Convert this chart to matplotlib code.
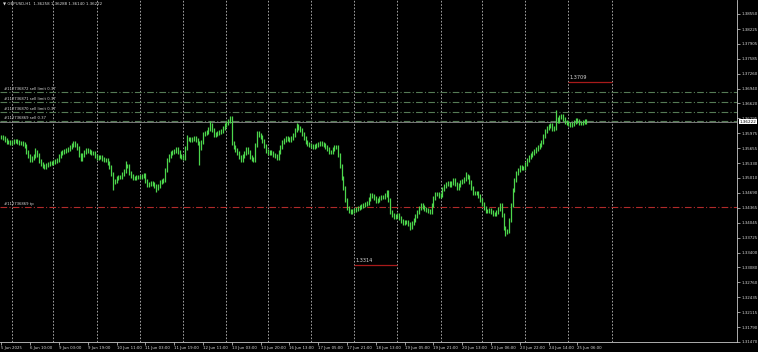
import matplotlib.pyplot as plt
import numpy as np

# GBPUSD H1 closes, one per bar (bar 0 = 5 Jun 18:00)
closes = [
    1.3589, 1.3587, 1.3583, 1.3579, 1.3579, 1.3576, 1.3579, 1.3581, 1.3581, 1.3579,
    1.3576, 1.3576, 1.3574, 1.3570, 1.3557, 1.3548, 1.3540, 1.3544, 1.3548, 1.3557,
    1.3551, 1.3538, 1.3531, 1.3527, 1.3525, 1.3529, 1.3531, 1.3533, 1.3533, 1.3535,
    1.3538, 1.3540, 1.3548, 1.3555, 1.3557, 1.3559, 1.3561, 1.3563, 1.3568, 1.3572,
    1.3576, 1.3572, 1.3566, 1.3551, 1.3542, 1.3551, 1.3557, 1.3561, 1.3559, 1.3557,
    1.3555, 1.3555, 1.3548, 1.3544, 1.3546, 1.3546, 1.3542, 1.3540, 1.3540, 1.3533,
    1.3525, 1.3510, 1.3492, 1.3494, 1.3501, 1.3503, 1.3503, 1.3510, 1.3516, 1.3527,
    1.3527, 1.3512, 1.3505, 1.3501, 1.3501, 1.3503, 1.3503, 1.3503, 1.3505, 1.3507,
    1.3494, 1.3486, 1.3488, 1.3490, 1.3488, 1.3484, 1.3480, 1.3484, 1.3492, 1.3494,
    1.3497, 1.3518, 1.3540, 1.3548, 1.3555, 1.3557, 1.3559, 1.3563, 1.3557, 1.3548,
    1.3546, 1.3544, 1.3566, 1.3585, 1.3585, 1.3583, 1.3585, 1.3587, 1.3583, 1.3576,
    1.3566, 1.3579, 1.3596, 1.3598, 1.3600, 1.3607, 1.3615, 1.3605, 1.3594, 1.3596,
    1.3598, 1.3600, 1.3602, 1.3609, 1.3615, 1.3620, 1.3624, 1.3630, 1.3576, 1.3568,
    1.3561, 1.3555, 1.3546, 1.3540, 1.3548, 1.3555, 1.3563, 1.3557, 1.3546, 1.3542,
    1.3540, 1.3572, 1.3598, 1.3594, 1.3589, 1.3581, 1.3570, 1.3559, 1.3555, 1.3557,
    1.3555, 1.3551, 1.3548, 1.3544, 1.3557, 1.3568, 1.3579, 1.3583, 1.3587, 1.3585,
    1.3583, 1.3587, 1.3594, 1.3605, 1.3613, 1.3609, 1.3605, 1.3596, 1.3587, 1.3579,
    1.3574, 1.3572, 1.3570, 1.3568, 1.3570, 1.3572, 1.3574, 1.3576, 1.3574, 1.3572,
    1.3568, 1.3563, 1.3557, 1.3557, 1.3563, 1.3568, 1.3568, 1.3551, 1.3527, 1.3501,
    1.3480, 1.3453, 1.3436, 1.3430, 1.3427, 1.3430, 1.3432, 1.3434, 1.3436, 1.3438,
    1.3440, 1.3443, 1.3445, 1.3447, 1.3456, 1.3464, 1.3462, 1.3458, 1.3451, 1.3453,
    1.3458, 1.3460, 1.3460, 1.3464, 1.3471, 1.3453, 1.3427, 1.3421, 1.3417, 1.3419,
    1.3421, 1.3414, 1.3408, 1.3404, 1.3406, 1.3406, 1.3402, 1.3395, 1.3404, 1.3410,
    1.3419, 1.3427, 1.3436, 1.3443, 1.3438, 1.3434, 1.3432, 1.3430, 1.3427, 1.3443,
    1.3458, 1.3467, 1.3467, 1.3462, 1.3464, 1.3477, 1.3484, 1.3488, 1.3490, 1.3486,
    1.3490, 1.3497, 1.3488, 1.3480, 1.3486, 1.3492, 1.3494, 1.3499, 1.3505, 1.3503,
    1.3492, 1.3480, 1.3469, 1.3469, 1.3469, 1.3462, 1.3453, 1.3445, 1.3436, 1.3430,
    1.3430, 1.3432, 1.3427, 1.3423, 1.3423, 1.3427, 1.3434, 1.3443, 1.3421, 1.3393,
    1.3384, 1.3386, 1.3410, 1.3443, 1.3475, 1.3497, 1.3512, 1.3518, 1.3525, 1.3523,
    1.3523, 1.3531, 1.3540, 1.3546, 1.3551, 1.3555, 1.3559, 1.3563, 1.3568, 1.3572,
    1.3579, 1.3592, 1.3602, 1.3609, 1.3613, 1.3615, 1.3607, 1.3609, 1.3628, 1.3624,
    1.3633, 1.3635, 1.3628, 1.3622, 1.3620, 1.3617, 1.3615, 1.3617, 1.3622, 1.3626,
    1.3624, 1.3620, 1.3620, 1.3622, 1.3624, 1.3622,
]

# long wicks that stick out of the normal bar range
spike_highs = {19: 1.3566, 69: 1.3538, 103: 1.3594, 116: 1.3624, 127: 1.3635,
               142: 1.3602, 164: 1.3620, 214: 1.3475, 258: 1.3514, 308: 1.3648}
spike_lows = {62: 1.3475, 86: 1.3471, 110: 1.3529, 227: 1.3389, 280: 1.3376}

# bar index of each day start (vertical grid) and time axis labels (every 16 bars)
day_starts = [6, 29, 53, 77, 101, 125, 148, 172, 196, 220, 244, 267, 291, 315, 339]
time_labels = ['5 Jun 2025', '6 Jun 10:00', '9 Jun 03:00', '9 Jun 19:00', '10 Jun 11:00',
               '11 Jun 03:00', '11 Jun 19:00', '12 Jun 11:00', '13 Jun 03:00', '13 Jun 20:00',
               '16 Jun 13:00', '17 Jun 05:00', '17 Jun 21:00', '18 Jun 13:00', '19 Jun 05:00',
               '19 Jun 21:00', '20 Jun 13:00', '23 Jun 06:00', '23 Jun 22:00', '24 Jun 14:00',
               '25 Jun 06:00']

price_ticks = [1.38550, 1.38225, 1.37905, 1.37585, 1.37260, 1.36940, 1.36620, 1.36295,
               1.35975, 1.35655, 1.35330, 1.35010, 1.34690, 1.34365, 1.34045, 1.33725,
               1.33400, 1.33080, 1.32760, 1.32435, 1.32115, 1.31790, 1.31470]

# pending orders / open trade
order_labels = ['#112736872 sell limit 0.37', '#112736871 sell limit 0.37',
                '#112736870 sell limit 0.37', '#112736869 sell 0.37', '#112736869 tp']
order_prices = [1.3687, 1.3665, 1.3643, 1.3625, 1.3438]
order_colors = ['#557a55', '#557a55', '#557a55', '#557a55', '#b02a2a']

bid = 1.36222
title = '\u25bc GBPUSD,H1  1.36258 1.36288 1.36140 1.36222'

# drawn level segments: (start bar, end bar, price)
level_prices = [1.3314, 1.3709]
level_starts = [196, 315]
level_ends = [220, 339]

fg = '#d8d8d8'
green = '#4cd64c'

fig = plt.figure(figsize=(7.58, 3.52), dpi=100, facecolor='black')
ax = fig.add_axes([0, 10 / 352, 737 / 758, 342 / 352])
ax.set_facecolor('black')

closes = np.array(closes)
idx = np.arange(len(closes))
opens = np.concatenate([[closes[0]], closes[:-1]])
highs = np.maximum(opens, closes) + 0.0004
lows = np.minimum(opens, closes) - 0.0004
for i, v in spike_highs.items():
    highs[i] = max(highs[i], v)
for i, v in spike_lows.items():
    lows[i] = min(lows[i], v)

ax.vlines(idx, lows, highs, colors=green, linewidth=0.9, zorder=3)

# day separators
for d in day_starts:
    ax.axvline(d, color='#bcbcbc', linestyle=(0, (2, 2)), linewidth=0.6, zorder=1)

# orders
for lab, p, c in zip(order_labels, order_prices, order_colors):
    ax.axhline(p, color=c, linestyle=(0, (6, 2, 1, 2)), linewidth=0.8, zorder=2)
    ax.annotate(lab, xy=(0.005, p), xycoords=ax.get_yaxis_transform(),
                xytext=(0, 0.6), textcoords='offset points', fontsize=2.7,
                color=fg, va='bottom', ha='left')

# bid line
ax.axhline(bid, color='#8c8c8c', linewidth=0.6, zorder=2)
ax.annotate(f'{bid:.5f}', xy=(1.0, bid), xycoords=ax.get_yaxis_transform(),
            xytext=(2, 0), textcoords='offset points', fontsize=3, color='black',
            va='center', ha='left', annotation_clip=False,
            bbox=dict(boxstyle='square,pad=0.15', fc='white', ec='none'))

# level segments with labels
for p, s, e in zip(level_prices, level_starts, level_ends):
    ax.hlines(p, s, e, colors='#a81a1a', linewidth=0.9, zorder=4)
    ax.annotate(f'{p:.4f}', xy=(s, p), xytext=(1, 1.5), textcoords='offset points',
                fontsize=3.6, color=fg, va='bottom', ha='left')

ax.text(0.004, 0.995, title, transform=ax.transAxes, fontsize=2.9, color=fg,
        va='top', ha='left')

ax.set_xlim(-0.72, 408.7)
ax.set_ylim(1.31470, 1.38852)

ax.set_xticks(np.arange(len(time_labels)) * 16)
ax.set_xticklabels(time_labels, ha='left')
ax.yaxis.tick_right()
ax.set_yticks(price_ticks)
ax.set_yticklabels([f'{t:.5f}' for t in price_ticks])
ax.tick_params(axis='x', colors=fg, labelsize=2.8, length=2, width=0.5, pad=1)
ax.tick_params(axis='y', colors=fg, labelsize=2.9, length=2, width=0.5, pad=1)

for side in ['left', 'top']:
    ax.spines[side].set_visible(False)
for side in ['right', 'bottom']:
    ax.spines[side].set_color('#c8c8c8')
    ax.spines[side].set_linewidth(0.6)

plt.savefig('out.png', dpi=100, facecolor='black')
